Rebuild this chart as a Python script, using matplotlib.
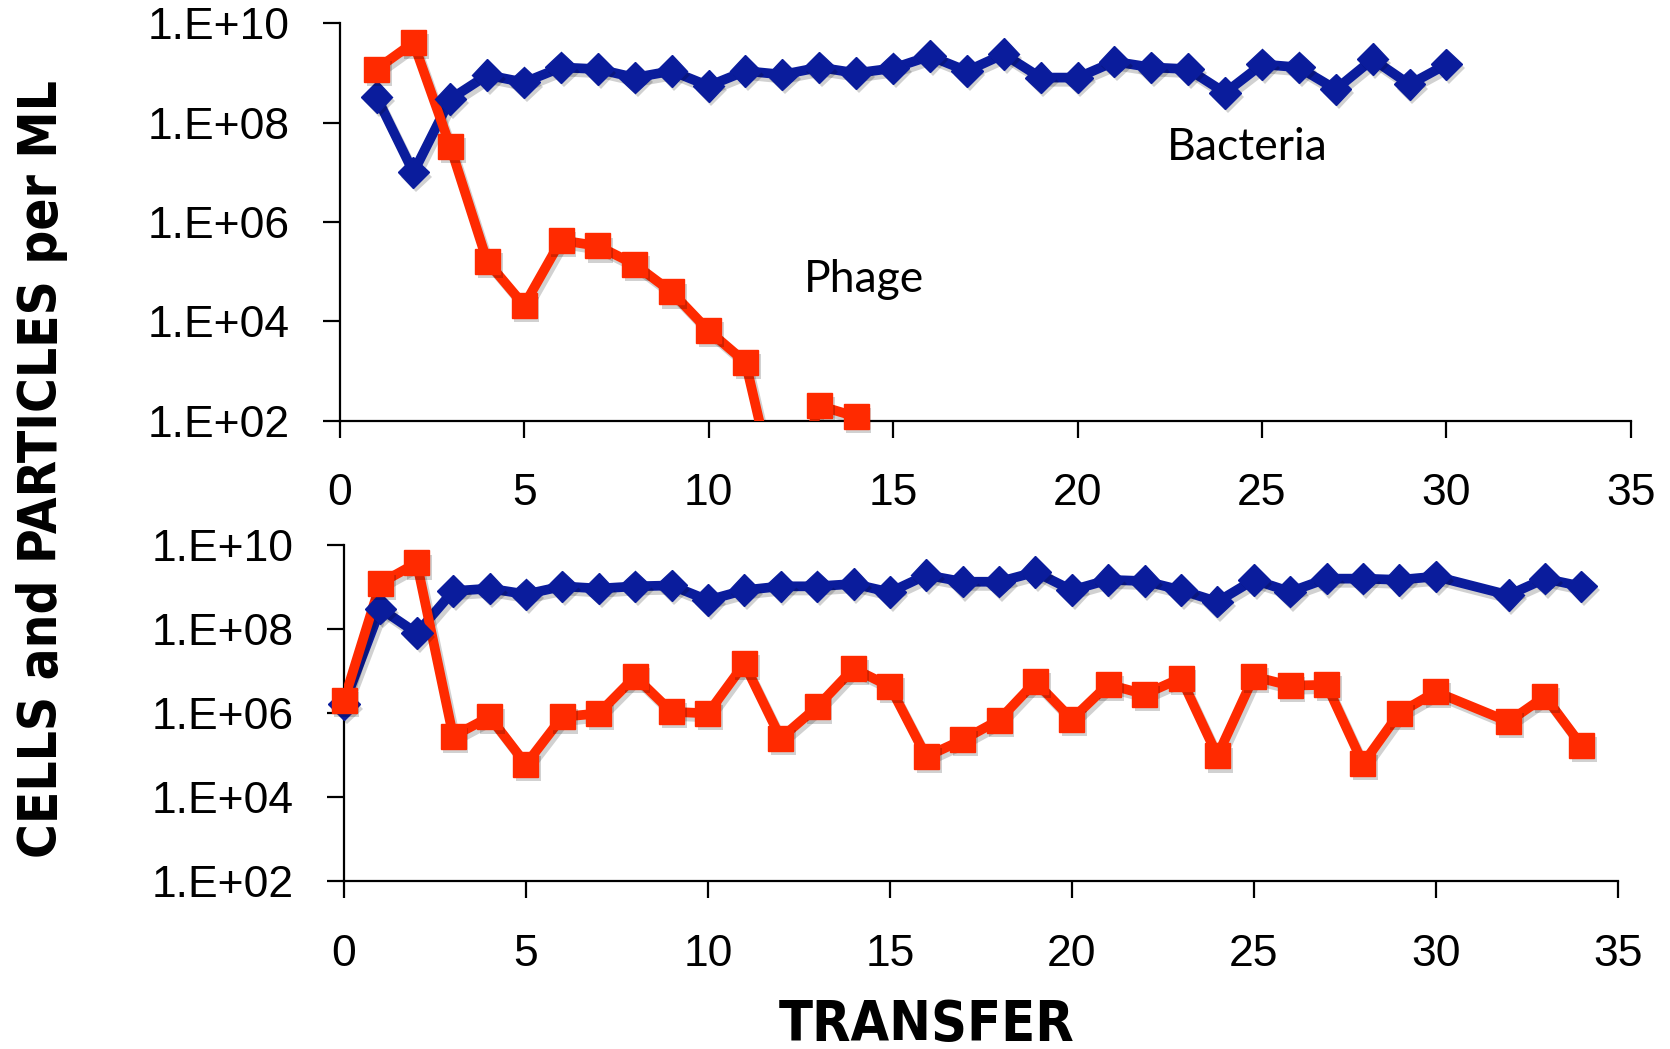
import matplotlib
matplotlib.use("Agg")
from matplotlib import pyplot as plt
from matplotlib import font_manager
import matplotlib.patheffects as pe

# transfer series, upper experiment (phage lost)
top_bact_x = list(range(1, 31))
top_bact = [3.3e8, 1.0e7, 3.0e8, 9.1e8, 6.5e8, 1.3e9, 1.2e9, 8.1e8, 1.1e9, 5.5e8,
            1.1e9, 9.3e8, 1.3e9, 1.0e9, 1.25e9, 2.2e9, 1.1e9, 2.4e9, 8.1e8, 8.1e8,
            1.7e9, 1.3e9, 1.2e9, 4.0e8, 1.5e9, 1.3e9, 4.7e8, 1.9e9, 5.9e8, 1.5e9]
top_phage_x = list(range(1, 15))
top_phage = [1.2e9, 4.1e9, 3.3e7, 1.6e5, 2.1e4, 4.3e5, 3.3e5, 1.4e5, 3.9e4, 6.5e3,
             1.5e3, 1.0, 2.0e2, 1.2e2]

# lower experiment (phage maintained), no count at transfer 31
bot_x = list(range(0, 31)) + [32, 33, 34]
bot_bact = [1.6e6, 3.1e8, 8.0e7, 8.1e8, 9.3e8, 6.8e8, 1.05e9, 9.3e8, 1.05e9, 1.1e9,
            4.9e8, 8.5e8, 1.05e9, 1.05e9, 1.2e9, 7.6e8, 1.95e9, 1.35e9, 1.35e9, 2.3e9,
            8.5e8, 1.5e9, 1.4e9, 8.5e8, 4.5e8, 1.5e9, 7.8e8, 1.6e9, 1.6e9, 1.5e9,
            1.8e9, 6.5e8, 1.6e9, 1.05e9]
bot_phage = [2.0e6, 1.25e9, 3.8e9, 2.8e5, 8.1e5, 6.0e4, 8.1e5, 9.8e5, 7.4e6, 1.07e6,
             9.8e5, 1.5e7, 2.5e5, 1.4e6, 1.15e7, 4.3e6, 9.1e4, 2.3e5, 6.8e5, 5.6e6,
             7.1e5, 4.8e6, 2.8e6, 6.8e6, 9.5e4, 7.4e6, 4.5e6, 4.7e6, 6.2e4, 1.0e6,
             3.2e6, 6.2e5, 2.5e6, 1.7e5]

yticks = [1e2, 1e4, 1e6, 1e8, 1e10]
ytick_labels = ["1.E+02", "1.E+04", "1.E+06", "1.E+08", "1.E+10"]
xticks = [0, 5, 10, 15, 20, 25, 30, 35]

blue = '#0a1c9c'
red = '#ff2a00'
tickfont = ['Liberation Sans', 'DejaVu Sans']

# axis titles: condensed bold if there is one, else plain bold a bit smaller
cond = font_manager.FontProperties(family='DejaVu Sans', weight='bold', stretch='condensed')
if 'Condensed' in font_manager.findfont(cond):
    title_font = dict(family='DejaVu Sans', fontstretch='condensed', fontweight='bold')
    ylab_size, xlab_size = 38, 40
else:
    title_font = dict(family='Liberation Sans', fontweight='bold')
    ylab_size, xlab_size = 35, 40

line_fx = [pe.SimpleLineShadow(offset=(2, -3), shadow_color='k', alpha=0.18), pe.Normal()]
mark_fx = [pe.SimplePatchShadow(offset=(2, -3), shadow_rgbFace='k', alpha=0.18), pe.Normal()]


def series(ax, x, y, color, marker, ms, floor=1e2):
    ax.plot(x, y, '-', color=color, lw=7, path_effects=line_fx, zorder=3)
    # markers may spill over the axis line, points under the floor are dropped
    mx = [a for a, b in zip(x, y) if b >= floor]
    my = [b for b in y if b >= floor]
    ax.plot(mx, my, linestyle='none', marker=marker, ms=ms, color=color,
            mec=color, path_effects=mark_fx, clip_on=False, zorder=4)


def style(ax):
    ax.set_yscale('log')
    ax.set_ylim(1e2, 1e10)
    ax.set_xlim(0, 35)
    ax.minorticks_off()
    ax.set_yticks(yticks)
    ax.set_yticklabels(ytick_labels, family=tickfont, fontsize=32)
    ax.set_xticks(xticks)
    ax.set_xticklabels([str(t) for t in xticks], family=tickfont, fontsize=32)
    ax.spines['top'].set_visible(False)
    ax.spines['right'].set_visible(False)
    for s in ('left', 'bottom'):
        ax.spines[s].set_linewidth(1.6)
    ax.tick_params(axis='y', length=12, width=1.6, pad=24)
    ax.tick_params(axis='x', length=12, width=1.6, pad=26)


fig = plt.figure(figsize=(16.7, 10.49), dpi=100)
ax1 = fig.add_axes([0.2034, 0.599, 0.7732, 0.3787])
ax2 = fig.add_axes([0.206, 0.1604, 0.7627, 0.3198])

series(ax1, top_bact_x, top_bact, blue, 'D', 16)
series(ax1, top_phage_x, top_phage, red, 's', 18)
style(ax1)
ax1.text(24.6, 3.2e7, "Bacteria", family=['Lato', 'DejaVu Sans'], fontsize=32,
         ha='center', va='center')
ax1.text(14.2, 6.8e4, "Phage", family=['Lato', 'DejaVu Sans'], fontsize=32,
         ha='center', va='center')

series(ax2, bot_x, bot_bact, blue, 'D', 16)
series(ax2, bot_x, bot_phage, red, 's', 18)
style(ax2)

fig.text(0.025, 0.553, "CELLS and PARTICLES per ML", rotation=90, fontsize=ylab_size,
         ha='center', va='center', **title_font)
fig.text(0.555, 0.023, "TRANSFER", fontsize=xlab_size, ha='center', va='center',
         **title_font)

plt.savefig("out.png", dpi=100)
